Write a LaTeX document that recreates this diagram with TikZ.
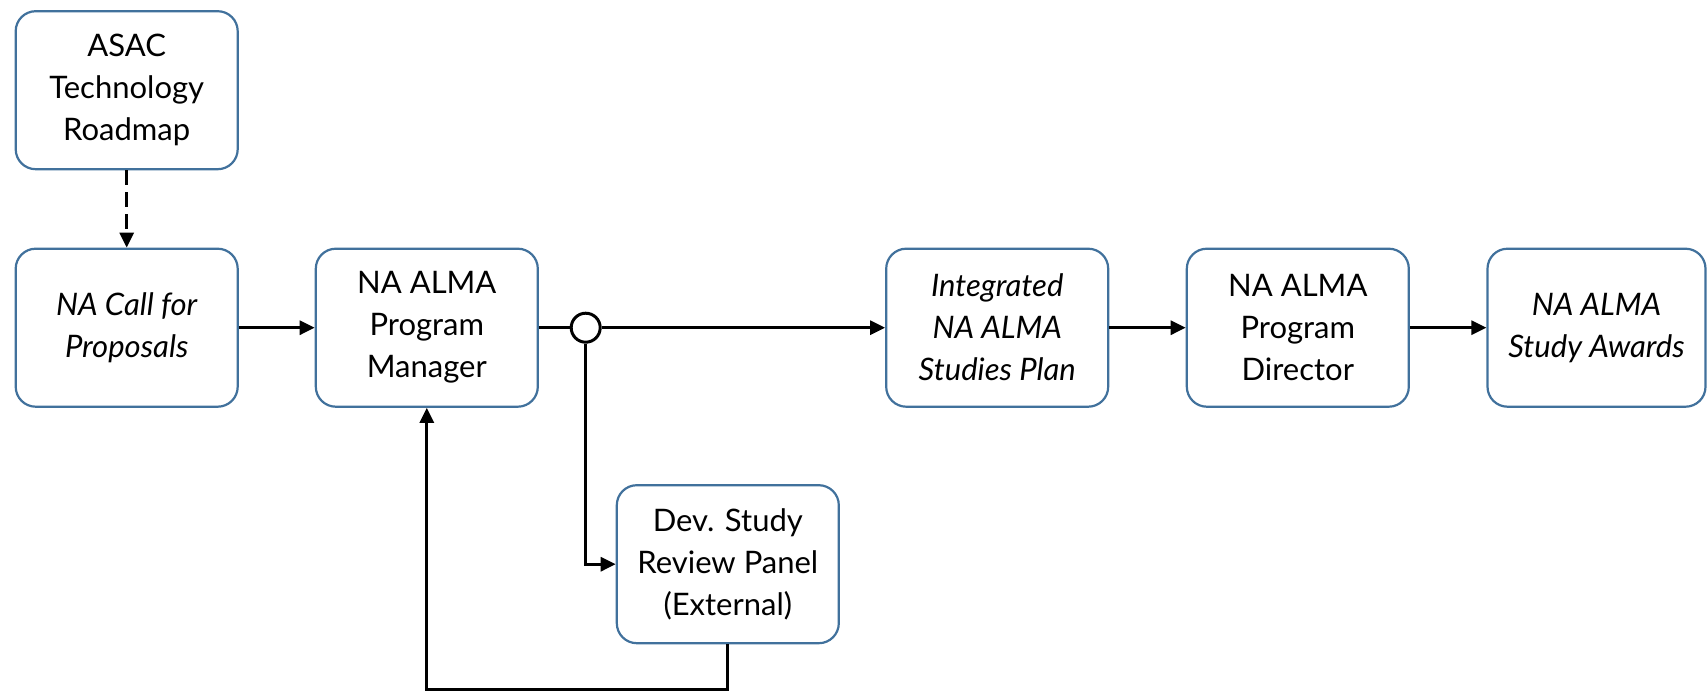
\documentclass[tikz,border=0pt]{standalone}
\usepackage{fontspec}
\setmainfont{Lato}
\usetikzlibrary{arrows.meta}
\definecolor{boxblue}{RGB}{65,113,156}
\begin{document}
\begin{tikzpicture}[x=1pt,y=-1pt,
  box/.style={draw=boxblue, line width=2.2pt, rounded corners=20pt,
    minimum width=222pt, minimum height=158pt, align=center,
    font=\fontsize{31}{42}\selectfont, inner sep=0pt, fill=white},
  conn/.style={line width=3pt, -{Triangle[length=15pt,width=14pt]}},
  plain/.style={line width=3pt},
  junction/.style={circle, draw, line width=3pt, minimum size=29pt, inner sep=0pt, fill=white},
]
\useasboundingbox (0,0) rectangle (1707,691);
\node[box] (asac) at (126.7,90.2) {ASAC\\Technology\\Roadmap};
\node[box] (call) at (126.7,327.7) {\itshape NA Call for\\\itshape Proposals};
\node[box] (pm) at (426.8,327.7) {NA ALMA\\Program\\Manager};
\node[box] (dev) at (727.8,564.2) {Dev. Study\\Review Panel\\(External)};
\node[box] (integ) at (997.2,327.7) {\itshape Integrated\\\itshape NA ALMA\\\itshape Studies Plan};
\node[box] (dir) at (1297.8,327.7) {NA ALMA\\Program\\Director};
\node[box, minimum width=218pt] (award) at (1596.5,327.7) {\itshape NA ALMA\\\itshape Study Awards};
\node[junction] (junc) at (585.7,327.7) {};
\coordinate (low) at (0,689.3);

\draw[conn, dash pattern=on 15pt off 7pt] (asac.south) -- (call.north);
\draw[conn] (call.east) -- (pm.west);
\draw[plain] (pm.east) -- (junc.west);
\draw[conn] (junc.east) -- (integ.west);
\draw[conn] (junc.south) |- (dev.west);
\draw[conn] (dev.south) -- (dev.south |- low) -| (pm.south);
\draw[conn] (integ.east) -- (dir.west);
\draw[conn] (dir.east) -- (award.west);
\end{tikzpicture}
\end{document}
